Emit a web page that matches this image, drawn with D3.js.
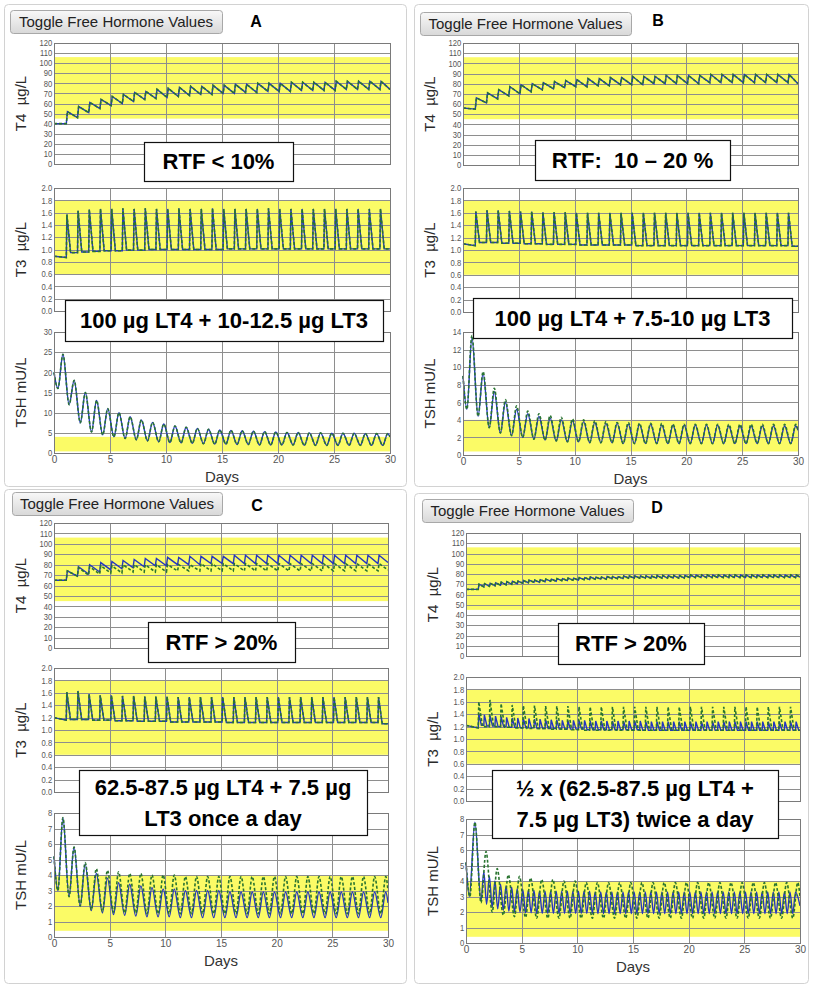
<!DOCTYPE html>
<html>
<head>
<meta charset="utf-8">
<script src="https://cdn.jsdelivr.net/npm/d3@7"></script>
<style>
  body { margin: 0; background: #fff; }
  svg text { font-family: "Liberation Sans", Arial, sans-serif; }
</style>
</head>
<body>
<svg id="fig" width="829" height="987"></svg>
<script>
// axis ticks and reference ranges
var t4Ticks = [0, 10, 20, 30, 40, 50, 60, 70, 80, 90, 100, 110, 120];
var t3Ticks = [0, 0.2, 0.4, 0.6, 0.8, 1.0, 1.2, 1.4, 1.6, 1.8, 2.0];
var tshTicksA = [0, 5, 10, 15, 20, 25, 30];
var tshTicksB = [0, 2, 4, 6, 8, 10, 12, 14];
var tshTicksCD = [0, 1, 2, 3, 4, 5, 6, 7, 8];
var dayTicks = [0, 5, 10, 15, 20, 25, 30];
var t4Band = [45, 106];
var t3Band = [0.6, 1.8];
var tshBand = [0.4, 4.0];

// panel A (values per dose / per day)
var aT4Peaks   = [52,57,61,64,67,69,71,72,74,75, 76,77,77,78,78,79,79,80,80,80, 81,81,81,81,82,82,82,82,82];
var aT4Troughs = [40,46,51,55,58,60,62,64,65,66, 67,68,69,69,70,70,71,71,72,72, 72,73,73,73,73,74,74,74,74];
var aT3Peaks   = [1.57,1.63,1.65,1.66,1.66,1.67,1.66,1.67,1.66,1.66, 1.67,1.66,1.66,1.67,1.66,1.66,1.66,1.66,1.67,1.66, 1.66,1.66,1.66,1.66,1.66,1.66,1.66,1.66,1.66];
var aT3Troughs = [0.87,0.95,0.96,0.97,0.98,0.98,0.99,0.99,1.0,1.0, 1.0,1.0,1.0,1.0,1.0,1.01,1.01,1.01,1.01,1.01, 1.01,1.01,1.01,1.01,1.01,1.01,1.01,1.01,1.01];
var aTSHPeaks   = [24.5,18,15,13,11,10,9,8.2,7.6,7.2, 6.7,6.4,6.1,5.9,5.7,5.6,5.5,5.4,5.3,5.2, 5.1,5.1,5.0,5.0,4.9,4.9,4.9,4.8,4.8,4.8];
var aTSHTroughs = [16,12,7.5,5.2,4.5,4.0,3.6,3.3,3.0,2.8, 2.6,2.5,2.4,2.3,2.2,2.2,2.1,2.1,2.0,2.0, 2.0,2.0,1.9,1.9,1.9,1.9,1.9,1.9,1.9,1.9];

// panel B
var bT4Peaks   = [66,71,74,77,79,80,81,82,83,84, 85,85,86,86,87,87,87,88,88,88, 88,89,89,89,89,89,89,89,89];
var bT4Troughs = [55,61,65,68,70,72,74,75,76,77, 77,78,78,79,79,79,80,80,80,80, 80,81,81,81,81,81,81,81,81];
var bT3Peaks   = [1.62,1.64,1.64,1.63,1.62,1.62,1.61,1.61,1.61,1.6, 1.6,1.6,1.6,1.6,1.6,1.6,1.6,1.6,1.6,1.6, 1.6,1.6,1.6,1.6,1.6,1.6,1.6,1.6,1.6];
var bT3Troughs = [1.07,1.12,1.12,1.11,1.11,1.1,1.1,1.09,1.09,1.09, 1.08,1.08,1.08,1.08,1.08,1.07,1.07,1.07,1.07,1.07, 1.07,1.07,1.07,1.07,1.07,1.07,1.07,1.07,1.07];
var bTSHBluePeaks  = [13.4,9.3,7.2,6.0,5.2,4.7,4.4,4.2,4.0,3.9, 3.8,3.7,3.6,3.6,3.5,3.5,3.5,3.4,3.4,3.4, 3.4,3.4,3.4,3.3,3.3,3.3,3.3,3.3,3.3,3.3];
var bTSHGreenPeaks = [13.6,9.5,7.6,6.3,5.6,5.0,4.7,4.5,4.3,4.1, 4.0,3.9,3.8,3.7,3.7,3.6,3.6,3.6,3.5,3.5, 3.5,3.5,3.5,3.5,3.5,3.5,3.5,3.5,3.5,3.5];
var bTSHTroughs    = [5.2,4.4,3.1,2.5,2.2,2.0,1.8,1.7,1.6,1.5, 1.5,1.4,1.4,1.4,1.3,1.3,1.3,1.3,1.3,1.3, 1.3,1.3,1.3,1.3,1.3,1.3,1.3,1.3,1.3,1.3];

// panel C
var cT4BluePeaks    = [74,78,80,82,83,84,85,86,86,87, 87,88,88,88,88,89,89,89,89,89, 89,89,89,89,89,89,89,89,89];
var cT4BlueTroughs  = [65,69,71,73,75,76,77,78,79,79, 80,80,80,81,81,81,81,81,81,81, 81,81,81,81,81,81,81,81,81];
var cT4GreenPeaks   = [74,77,78,79,79,80,80,80,80,80, 80,80,81,81,81,81,81,81,81,81, 81,81,81,81,81,81,81,81,81];
var cT4GreenTroughs = [65,69,70,71,72,72,73,73,73,73, 74,74,74,74,74,74,74,74,74,74, 74,74,74,74,74,74,74,74,74];
var cT3Peaks   = [1.61,1.63,1.58,1.56,1.56,1.55,1.55,1.54,1.54,1.54, 1.53,1.53,1.53,1.53,1.53,1.53,1.53,1.53,1.53,1.53, 1.53,1.53,1.53,1.53,1.53,1.53,1.53,1.53,1.53];
var cT3Troughs = [1.16,1.17,1.17,1.16,1.16,1.15,1.15,1.14,1.14,1.14, 1.13,1.13,1.13,1.13,1.13,1.12,1.12,1.12,1.12,1.12, 1.12,1.12,1.12,1.12,1.12,1.12,1.12,1.12,1.12];
var cTSHBluePeaks    = [7.7,5.8,4.7,4.1,3.8,3.5,3.4,3.3,3.2,3.1, 3.1,3.0,3.0,3.0,3.0,2.9,2.9,2.9,2.9,2.9, 2.9,2.9,2.9,2.9,2.9,2.9,2.9,2.9,2.9,2.9];
var cTSHGreenPeaks   = [7.7,5.8,4.8,4.4,4.3,4.2,4.1,4.1,4.0,4.0, 4.0,3.9,3.9,3.9,3.9,3.9,3.9,3.9,3.9,3.9, 3.9,3.9,3.9,3.9,3.9,3.9,3.9,3.9,3.9,3.9];
var cTSHBlueTroughs  = [3.0,2.6,2.0,1.7,1.55,1.45,1.4,1.35,1.3,1.3, 1.3,1.25,1.25,1.25,1.25,1.25,1.25,1.25,1.25,1.25, 1.25,1.25,1.25,1.25,1.25,1.25,1.25,1.25,1.25,1.25];
var cTSHGreenTroughs = [3.0,2.6,2.0,1.75,1.65,1.6,1.55,1.55,1.5,1.5, 1.5,1.5,1.5,1.5,1.5,1.5,1.5,1.5,1.5,1.5, 1.5,1.5,1.5,1.5,1.5,1.5,1.5,1.5,1.5,1.5];

// panel D (twice-daily doses for the blue curves)
var dT4Peaks = [70,70.5,71,71.5,72,72.5,73,73,73.5,74, 74,74.5,75,75,75.5,75.5,76,76,76.5,76.5,
                77,77,77,77.5,77.5,77.5,78,78, 78,78,78,78,78.5,78.5,78.5,78.5,78.5,78.5,
                79,79,79,79,79,79,79,79,79,79, 79,79,79,79,79,79,79,79,79,79];
var dT4Troughs = [65,67.5,68,68.5,69,69.5,70,70.5,71,71.5, 72,72,72.5,73,73,73.5,73.5,74,74,74.5,
                  74.5,75,75,75,75.5,75.5,75.5,76, 76,76,76,76,76,76,76,76,76,76,
                  76.5,76.5,76.5,76.5,76.5,76.5,76.5,76.5,76.5,76.5, 76.5,76.5,76.5,76.5,76.5,76.5,76.5,76.5,76.5,76.5];
var dT3BluePeaks = [1.41,1.39,1.38,1.37,1.36,1.35,1.34,1.34,1.33,1.33, 1.32,1.32,1.31,1.31,1.31,1.3,1.3,1.3,1.3,1.3,
                    1.29,1.29,1.29,1.29,1.29,1.29,1.29,1.29,1.29,1.29,
                    1.28,1.28,1.28,1.28,1.28,1.28,1.28,1.28,1.28,1.28, 1.28,1.28,1.28,1.28,1.28,1.28,1.28,1.28,1.28,1.28,
                    1.28,1.28,1.28,1.28,1.28,1.28,1.28,1.28];
var dT3BlueTroughs = [1.18,1.22,1.21,1.21,1.2,1.2,1.19,1.19,1.18,1.18, 1.18,1.17,1.17,1.17,1.17,1.16,1.16,1.16,1.16,1.16,
                      1.15,1.15,1.15,1.15,1.15,1.15,1.15,1.15,1.15,1.15,
                      1.14,1.14,1.14,1.14,1.14,1.14,1.14,1.14,1.14,1.14, 1.14,1.14,1.14,1.14,1.14,1.14,1.14,1.14,1.14,1.14,
                      1.14,1.14,1.14,1.14,1.14,1.14,1.14,1.14];
var dT3GreenPeaks   = [1.6,1.63,1.57,1.55,1.54,1.54,1.53,1.53,1.53,1.52, 1.52,1.52,1.52,1.52,1.52,1.52,1.52,1.52,1.52,1.52, 1.52,1.52,1.52,1.52,1.52,1.52,1.52,1.52,1.52];
var dT3GreenTroughs = [1.18,1.2,1.2,1.19,1.18,1.17,1.17,1.16,1.16,1.15, 1.14,1.14,1.14,1.14,1.14,1.14,1.14,1.14,1.14,1.14, 1.14,1.14,1.14,1.14,1.14,1.14,1.14,1.14,1.14];
var dTSHBluePeaks = [4.6,4.3,4.0,3.8,3.7,3.6,3.5,3.45,3.4,3.4, 3.35,3.35,3.35,3.35,3.35,3.35,3.35,3.35,3.35,3.35,
                     3.3,3.3,3.3,3.3,3.3,3.3,3.3,3.3,3.3,3.3, 3.3,3.3,3.3,3.3,3.3,3.3,3.3,3.3,3.3,3.3,
                     3.3,3.3,3.3,3.3,3.3,3.3,3.3,3.3,3.3,3.3, 3.3,3.3,3.3,3.3,3.3,3.3,3.3];
var dTSHBlueTroughs = [2.7,2.5,2.3,2.2,2.1,2.05,2.0,2.0,1.95,1.95, 1.9,1.9,1.9,1.9,1.9,1.9,1.9,1.9,1.9,1.9,
                       1.9,1.9,1.9,1.9,1.9,1.9,1.9,1.9,1.9,1.9, 1.9,1.9,1.9,1.9,1.9,1.9,1.9,1.9,1.9,1.9,
                       1.9,1.9,1.9,1.9,1.9,1.9,1.9,1.9,1.9,1.9, 1.9,1.9,1.9,1.9,1.9,1.9,1.9];
var dTSHGreenPeaks   = [7.8,5.9,4.8,4.4,4.3,4.2,4.1,4.1,4.0,4.0, 3.9,3.9,3.9,3.9,3.9,3.9,3.9,3.9,3.9,3.9, 3.9,3.9,3.9,3.9,3.9,3.9,3.9,3.9,3.9,3.9];
var dTSHGreenTroughs = [3.0,2.6,2.0,1.8,1.7,1.65,1.6,1.6,1.6,1.6, 1.6,1.6,1.6,1.6,1.6,1.6,1.6,1.6,1.6,1.6, 1.6,1.6,1.6,1.6,1.6,1.6,1.6,1.6,1.6,1.6];

// timing of each cycle (days): first dose, spacing, time to peak, time to settle
var onceT4 = {t0: 1.1, period: 1, rise: 0.1};
var twiceT4 = {t0: 1.1, period: 0.5, rise: 0.07};
var onceT3 = {t0: 1.1, period: 1, rise: 0.05, settle: 0.38};
var twiceT3 = {t0: 1.1, period: 0.5, rise: 0.05, settle: 0.28};
var circadian = {t0: 0.35, period: 1, rise: 0.45};
var twiceTSH = {t0: 1.35, period: 0.5, rise: 0.25};

function S(sched, lead, troughs, peaks, end) {
  return {sched: sched, lead: lead, troughs: troughs, peaks: peaks, end: end};
}

var blueCol = "#2436c0";
var greenCol = "#2a7430";

var panels = [
  { letter: "A", button: [10, 10, 212, 23], letterPos: [256, 27], x0: 54, x1: 390,
    rows: [[43, 164], [188, 311], [332, 453]], tshTicks: tshTicksA, tshMax: 30,
    border: [4, 4, 402, 482],
    t4: {blue: S(onceT4, [[0, 40]], aT4Troughs, aT4Peaks, 74)},
    t3: {blue: S(onceT3, [[0, 0.89]], aT3Troughs, aT3Peaks, 1.01)},
    tsh: {blue: S(circadian, [[0, 20]], aTSHTroughs, aTSHPeaks, 4.0)},
    boxes: [{r: [144, 142, 149, 39], lines: ["RTF < 10%"]},
            {r: [65, 300, 318, 41], lines: ["100 µg LT4 + 10-12.5 µg LT3"]}] },
  { letter: "B", button: [420, 12, 211, 23], letterPos: [658, 26], x0: 463, x1: 798,
    rows: [[43, 165], [188, 312], [332, 455]], tshTicks: tshTicksB, tshMax: 14,
    border: [414, 4, 394, 482],
    t4: {blue: S(onceT4, [[0, 56]], bT4Troughs, bT4Peaks, 80)},
    t3: {blue: S(onceT3, [[0, 1.1]], bT3Troughs, bT3Peaks, 1.06)},
    tsh: {blue: S(circadian, [[0, 9]], bTSHTroughs, bTSHBluePeaks, 2.8),
          green: S(circadian, [[0, 9]], bTSHTroughs, bTSHGreenPeaks, 2.9)},
    boxes: [{r: [535, 140, 195, 40], lines: ["RTF:  10 – 20 %"]},
            {r: [473, 298, 319, 40], lines: ["100 µg LT4 + 7.5-10 µg LT3"]}] },
  { letter: "C", button: [12, 492, 210, 23], letterPos: [257, 511], x0: 54, x1: 388,
    rows: [[523, 648], [668, 792], [813, 937]], tshTicks: tshTicksCD, tshMax: 8,
    border: [4, 489, 402, 494],
    t4: {blue: S(onceT4, [[0, 65]], cT4BlueTroughs, cT4BluePeaks, 82),
         green: S(onceT4, [[0, 65]], cT4GreenTroughs, cT4GreenPeaks, 75)},
    t3: {blue: S(onceT3, [[0, 1.2]], cT3Troughs, cT3Peaks, 1.1)},
    tsh: {blue: S(circadian, [[0, 5.2]], cTSHBlueTroughs, cTSHBluePeaks, 2.2),
          green: S(circadian, [[0, 5.2]], cTSHGreenTroughs, cTSHGreenPeaks, 3.0)},
    boxes: [{r: [148, 622, 147, 40], lines: ["RTF > 20%"]},
            {r: [79, 770, 288, 65], lines: ["62.5-87.5 µg LT4 + 7.5 µg", "LT3 once a day"]}] },
  { letter: "D", button: [422, 499, 211, 23], letterPos: [657, 513], x0: 466, x1: 800,
    rows: [[533, 656], [677, 801], [819, 943]], tshTicks: tshTicksCD, tshMax: 8,
    border: [414, 493, 394, 490],
    t4: {blue: S(twiceT4, [[0, 65]], dT4Troughs, dT4Peaks, 77)},
    t3: {blue: S(twiceT3, [[0, 1.22]], dT3BlueTroughs, dT3BluePeaks, 1.14),
         green: S(onceT3, [[0, 1.22]], dT3GreenTroughs, dT3GreenPeaks, 1.14)},
    tsh: {blue: S(twiceTSH, [[0, 5.2], [0.3, 3.0], [0.8, 7.8]], dTSHBlueTroughs, dTSHBluePeaks, 2.4),
          green: S(circadian, [[0, 5.2]], dTSHGreenTroughs, dTSHGreenPeaks, 3.0)},
    boxes: [{r: [558, 623, 146, 41], lines: ["RTF > 20%"]},
            {r: [492, 770, 286, 68], lines: ["½ x (62.5-87.5 µg LT4 +", "7.5 µg LT3) twice a day"]}] }
];

var svg = d3.select("#fig");

var grad = svg.append("defs").append("linearGradient")
    .attr("id", "btn").attr("x1", 0).attr("y1", 0).attr("x2", 0).attr("y2", 1);
grad.append("stop").attr("offset", "0%").attr("stop-color", "#f8f8f8");
grad.append("stop").attr("offset", "100%").attr("stop-color", "#d8d8d8");

// turn the read troughs/peaks into a polyline
function cyclePoints(s) {
  var pts = s.lead.map(function(d) { return d.slice(); });
  s.peaks.forEach(function(pk, k) {
    var t = s.sched.t0 + k * s.sched.period;
    pts.push([t, s.troughs[k]]);
    pts.push([t + s.sched.rise, pk]);
    if (s.sched.settle) {
      var next = k + 1 < s.troughs.length ? s.troughs[k + 1] : s.end;
      pts.push([t + s.sched.settle, next]);
    }
  });
  pts.push([30, s.end]);
  return pts;
}

function drawChart(p, row, yMax, ticks, fmt, band, pair, curve, title, days) {
  var top = p.rows[row][0], bottom = p.rows[row][1];
  var x = d3.scaleLinear().domain([0, 30]).range([p.x0, p.x1]);
  var y = d3.scaleLinear().domain([0, yMax]).range([bottom, top]);
  var g = svg.append("g");

  g.append("rect")
      .attr("x", p.x0).attr("y", top)
      .attr("width", p.x1 - p.x0).attr("height", bottom - top)
      .attr("fill", "#fff");
  g.append("rect")
      .attr("x", p.x0).attr("y", y(band[1]))
      .attr("width", p.x1 - p.x0).attr("height", y(band[0]) - y(band[1]))
      .attr("fill", "#fbfb66");

  g.selectAll(".hg").data(ticks).join("line")
      .attr("x1", p.x0).attr("x2", p.x1)
      .attr("y1", function(d) { return Math.round(y(d)) + 0.5; })
      .attr("y2", function(d) { return Math.round(y(d)) + 0.5; })
      .attr("stroke", "#8e8e8e").attr("stroke-width", 1);
  g.selectAll(".vg").data(dayTicks).join("line")
      .attr("x1", function(d) { return Math.round(x(d)) + 0.5; })
      .attr("x2", function(d) { return Math.round(x(d)) + 0.5; })
      .attr("y1", top).attr("y2", bottom)
      .attr("stroke", "#8e8e8e").attr("stroke-width", 1);

  var line = d3.line()
      .x(function(d) { return x(d[0]); })
      .y(function(d) { return y(d[1]); })
      .curve(curve);

  g.append("path").datum(cyclePoints(pair.blue))
      .attr("d", line).attr("fill", "none")
      .attr("stroke", blueCol).attr("stroke-width", 1.4);
  g.append("path").datum(cyclePoints(pair.green || pair.blue))
      .attr("d", line).attr("fill", "none")
      .attr("stroke", greenCol).attr("stroke-width", 1.6)
      .attr("stroke-dasharray", "3,2");

  g.append("rect")
      .attr("x", p.x0 + 0.5).attr("y", top + 0.5)
      .attr("width", p.x1 - p.x0).attr("height", bottom - top)
      .attr("fill", "none").attr("stroke", "#7a7a7a");

  var ax = g.append("g")
      .attr("transform", "translate(" + p.x0 + ",0)")
      .call(d3.axisLeft(y).tickValues(ticks).tickSize(0).tickPadding(2).tickFormat(fmt));
  ax.select(".domain").remove();
  ax.selectAll("text")
      .attr("transform", "scale(0.9,1)")
      .style("font-size", "8.5px").attr("fill", "#555");

  g.append("text")
      .attr("transform", "translate(" + (p.x0 - 33) + "," + ((top + bottom) / 2) + ") rotate(-90)")
      .attr("text-anchor", "middle").attr("dy", "0.35em")
      .style("font-size", "15px").style("white-space", "pre").attr("fill", "#2a2a2a")
      .text(title);

  if (days) {
    var bx = g.append("g")
        .attr("transform", "translate(0," + bottom + ")")
        .call(d3.axisBottom(x).tickValues(dayTicks).tickSize(0).tickPadding(3));
    bx.select(".domain").remove();
    bx.selectAll("text").style("font-size", "10px").attr("fill", "#555");
    g.append("text")
        .attr("x", (p.x0 + p.x1) / 2).attr("y", bottom + 29)
        .attr("text-anchor", "middle")
        .style("font-size", "15px").attr("fill", "#333")
        .text("Days");
  }
}

panels.forEach(function(p) {
  svg.append("rect")
      .attr("x", p.border[0] + 0.5).attr("y", p.border[1] + 0.5)
      .attr("width", p.border[2]).attr("height", p.border[3])
      .attr("rx", 4).attr("fill", "none").attr("stroke", "#d2d2d2");

  var b = p.button;
  svg.append("rect")
      .attr("x", b[0] + 0.5).attr("y", b[1] + 0.5)
      .attr("width", b[2]).attr("height", b[3]).attr("rx", 3)
      .attr("fill", "url(#btn)").attr("stroke", "#a8a8a8");
  svg.append("text")
      .attr("x", b[0] + b[2] / 2).attr("y", b[1] + 16.5)
      .attr("text-anchor", "middle")
      .style("font-size", "15px").attr("fill", "#222")
      .text("Toggle Free Hormone Values");
  svg.append("text")
      .attr("x", p.letterPos[0]).attr("y", p.letterPos[1])
      .attr("text-anchor", "middle")
      .style("font-size", "16px").style("font-weight", "bold")
      .text(p.letter);

  drawChart(p, 0, 120, t4Ticks, d3.format("d"), t4Band, p.t4, d3.curveLinear, "T4  µg/L", false);
  drawChart(p, 1, 2, t3Ticks, d3.format(".1f"), t3Band, p.t3, d3.curveLinear, "T3  µg/L", false);
  drawChart(p, 2, p.tshMax, p.tshTicks, d3.format("d"), tshBand, p.tsh, d3.curveMonotoneX, "TSH mU/L", true);

  p.boxes.forEach(function(bx) {
    var r = bx.r;
    svg.append("rect")
        .attr("x", r[0] + 0.5).attr("y", r[1] + 0.5)
        .attr("width", r[2]).attr("height", r[3])
        .attr("fill", "#fff").attr("stroke", "#111").attr("stroke-width", 1.2);
    var cy = r[1] + r[3] / 2;
    var n = bx.lines.length;
    bx.lines.forEach(function(t, i) {
      svg.append("text")
          .attr("x", r[0] + r[2] / 2)
          .attr("y", cy + 7.5 + (i - (n - 1) / 2) * 31)
          .attr("text-anchor", "middle")
          .style("font-size", "22px").style("font-weight", "bold")
          .style("white-space", "pre")
          .text(t);
    });
  });
});
</script>
</body>
</html>
